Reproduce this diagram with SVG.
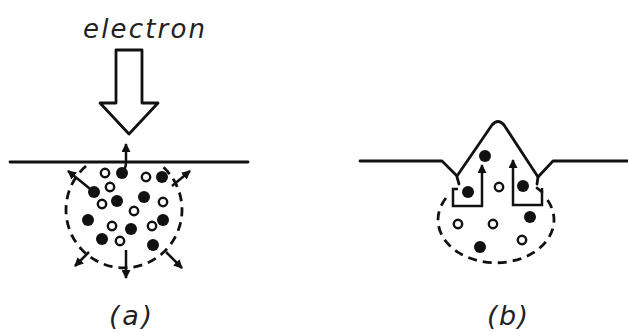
<svg xmlns="http://www.w3.org/2000/svg" width="628" height="332" viewBox="0 0 628 332">
  <style>
    .line { fill: none; stroke: #111; stroke-width: 2.8; stroke-linejoin: round; stroke-linecap: round; }
    .dash { fill: none; stroke: #111; stroke-width: 2.8; stroke-dasharray: 9 6; }
    .arrow { fill: none; stroke: #111; stroke-width: 2.5; marker-end: url(#head); }
    .full { fill: #111; }
    .hollow { fill: #fff; stroke: #111; stroke-width: 2.4; }
    .label { font-family: "DejaVu Sans", "Liberation Sans", sans-serif; font-style: italic; fill: #222; }
  </style>
  <defs>
    <marker id="head" viewBox="0 0 9 9" refX="8" refY="4.5" markerWidth="9" markerHeight="9" markerUnits="userSpaceOnUse" orient="auto">
      <path d="M0,0 L9,4.5 L0,9 z" fill="#111"/>
    </marker>
  </defs>
  <rect width="628" height="332" fill="#fff"/>

  <!-- panel (a): incident electron -->
  <g id="beam">
    <text class="label" x="83" y="38" font-size="26" textLength="122" lengthAdjust="spacing">electron</text>
    <polygon class="line" points="116,50 142,50 142,103 158,103 129,134 100,103 116,103" fill="#fff" stroke-width="2.2"/>
  </g>

  <g id="surface-a">
    <line class="line" x1="10" y1="162" x2="248" y2="162"/>
  </g>

  <g id="volume-a">
    <path class="dash" d="M86,166 A58,58 0 1 0 162,166"/>
  </g>

  <g id="particles-a">
    <circle class="full" cx="122" cy="173" r="6"/>
    <circle class="full" cx="162" cy="177" r="6"/>
    <circle class="full" cx="94" cy="192" r="6"/>
    <circle class="full" cx="117" cy="201" r="6"/>
    <circle class="full" cx="144" cy="197" r="6"/>
    <circle class="full" cx="88" cy="220" r="6"/>
    <circle class="full" cx="131" cy="229" r="6"/>
    <circle class="full" cx="163" cy="220" r="6"/>
    <circle class="full" cx="102" cy="239" r="6"/>
    <circle class="full" cx="153" cy="245" r="6"/>
    <circle class="hollow" cx="105" cy="173" r="4.2"/>
    <circle class="hollow" cx="110" cy="187" r="4.2"/>
    <circle class="hollow" cx="146" cy="177" r="4.2"/>
    <circle class="hollow" cx="102" cy="204" r="4.2"/>
    <circle class="hollow" cx="134" cy="211" r="4.2"/>
    <circle class="hollow" cx="163" cy="202" r="4.2"/>
    <circle class="hollow" cx="112" cy="226" r="4.2"/>
    <circle class="hollow" cx="152" cy="226" r="4.2"/>
    <circle class="hollow" cx="120" cy="241" r="4.2"/>
  </g>

  <g id="connectors">
    <!-- panel (a) escape paths -->
    <path class="arrow" d="M121,172 Q126,170 126,162 L126,144"/>
    <path class="arrow" d="M94,192 L68,171"/>
    <path class="arrow" d="M172,186 L190,171"/>
    <path class="arrow" d="M89,252 L75,266"/>
    <path class="arrow" d="M126,250 L126,278"/>
    <path class="arrow" d="M166,252 L182,268"/>
    <!-- panel (b) material flow toward the surface -->
    <path class="arrow" d="M458,189 L453,189 L453,206 L482,206 L482,165"/>
    <path class="arrow" d="M542,188 L542,205 L513,205 L513,160"/>
    <path class="line" d="M537,188 L542,192" stroke-width="2.2"/>
  </g>

  <!-- panel (b): deformed surface -->
  <g id="surface-b">
    <path class="line" d="M360,161 L442,161 L457,176 L492,125 Q498,118 504,125 L538,177 L553,161 L628,161"/>
    <path class="line" d="M457,177 L459,184" stroke-width="2.2"/>
    <path class="line" d="M538,177 L537,184" stroke-width="2.2"/>
  </g>

  <g id="volume-b">
    <path class="dash" d="M446,198 A58,43 0 1 0 546,198"/>
  </g>

  <g id="particles-b">
    <circle class="full" cx="485" cy="156" r="6"/>
    <circle class="full" cx="468" cy="192" r="6"/>
    <circle class="full" cx="523" cy="186" r="6"/>
    <circle class="full" cx="530" cy="217" r="6"/>
    <circle class="full" cx="480" cy="247" r="6"/>
    <circle class="hollow" cx="499" cy="187" r="4.2"/>
    <circle class="hollow" cx="458" cy="224" r="4.2"/>
    <circle class="hollow" cx="493" cy="224" r="4.2"/>
    <circle class="hollow" cx="522" cy="240" r="4.2"/>
  </g>

  <g id="captions">
    <text class="label" x="109" y="325" font-size="27" textLength="43" lengthAdjust="spacing">(a)</text>
    <text class="label" x="487" y="325" font-size="27" textLength="41" lengthAdjust="spacing">(b)</text>
  </g>
</svg>
